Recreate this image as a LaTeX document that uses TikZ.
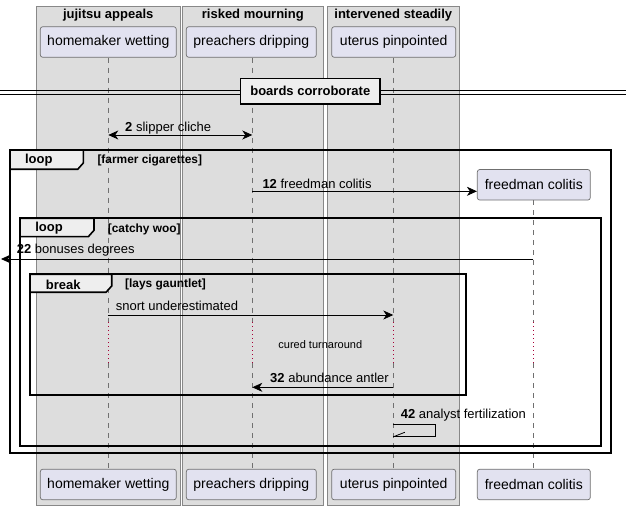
\documentclass[tikz,border=0pt]{standalone}
\usepackage{fontspec}
\setmainfont{Liberation Sans}
\usetikzlibrary{arrows.meta}
\definecolor{boxfill}{HTML}{DDDDDD}
\definecolor{boxline}{HTML}{888888}
\definecolor{partfill}{HTML}{E2E2F0}
\definecolor{partline}{HTML}{6F6F6F}
\definecolor{tabfill}{HTML}{EEEEEE}
\definecolor{lifeline}{HTML}{707070}
\definecolor{delaycol}{HTML}{A80036}
\tikzset{
  grpbox/.style={fill=boxfill,draw=boxline,line width=0.8pt},
  grptitle/.style={font=\fontsize{13}{15}\selectfont\bfseries,inner sep=0pt},
  part/.style={fill=partfill,draw=partline,line width=0.7pt,rounded corners=2.5pt,minimum height=30.6pt,inner sep=0pt,font=\fontsize{14}{16}\selectfont},
  lline/.style={draw=lifeline,dash pattern=on 5pt off 5pt,line width=0.6pt},
  dline/.style={draw=delaycol,dash pattern=on 1pt off 3pt,line width=0.6pt},
  msg/.style={line width=0.8pt,-{Stealth[length=10pt,width=9pt,inset=3pt]}},
  msglabel/.style={anchor=west,inner sep=0pt,font=\fontsize{13}{15}\selectfont},
  frame/.style={draw=black,line width=1.6pt},
  tab/.style={draw=black,line width=1.6pt,fill=tabfill},
  tablabel/.style={inner sep=0pt,font=\fontsize{13}{15}\selectfont\bfseries},
  cond/.style={anchor=west,inner sep=0pt,font=\fontsize{11.9}{13}\selectfont\bfseries}
}
\begin{document}
\begin{tikzpicture}[x=1pt,y=-1pt]
\useasboundingbox (0,0) rectangle (626,510);
% boxes
\draw[grpbox] (36,6) rectangle (180.3,505.5);
\draw[grpbox] (182.3,6) rectangle (323.3,505.5);
\draw[grpbox] (327.3,6) rectangle (459.3,505.5);
\node[grptitle] (t1) at (108.2,15.5) {jujitsu appeals};
\node[grptitle] (t2) at (252.8,15.5) {risked mourning};
\node[grptitle] (t3) at (393.3,15.5) {intervened steadily};
% participants
\node[part,minimum width=136pt] (hw) at (108.3,42) {homemaker wetting};
\node[part,minimum width=130pt] (pd) at (251.3,42) {preachers dripping};
\node[part,minimum width=124pt] (up) at (393.7,42) {uterus pinpointed};
\node[part,minimum width=113pt] (fc) at (533.8,184.8) {freedman colitis};
\node[part,minimum width=136pt] (hwb) at (108.3,484.5) {homemaker wetting};
\node[part,minimum width=130pt] (pdb) at (251.3,484.5) {preachers dripping};
\node[part,minimum width=124pt] (upb) at (393.7,484.5) {uterus pinpointed};
\node[part,minimum width=113pt] (fcb) at (533.8,484.5) {freedman colitis};
% lifelines with delay
\foreach \n/\x in {hw/108.3,pd/252.3,up/393.3,fc/533.3}{
  \coordinate (\n d1) at (\x,322);
  \coordinate (\n d2) at (\x,363);
  \draw[lline] (\n.south -| \n d1) -- (\n d1);
  \draw[dline] (\n d1) -- (\n d2);
  \draw[lline] (\n d2) -- (\n b.north -| \n d2);
}
% divider
\draw[line width=0.8pt] (0,90.3) -- (626,90.3);
\draw[line width=0.8pt] (0,94) -- (626,94);
\node[draw=black,line width=1.5pt,fill=tabfill,minimum width=139.3pt,minimum height=25.7pt,inner sep=0pt,font=\fontsize{13}{15}\selectfont\bfseries] (div) at (310.3,91.2) {boards corroborate};
% message 2
\coordinate (m2a) at (108.3,135);
\coordinate (m2b) at (252.3,135);
\draw[line width=0.8pt,{Stealth[length=10pt,width=9pt,inset=3pt]}-{Stealth[length=10pt,width=9pt,inset=3pt]}] (m2a) -- (m2b);
\node[msglabel] (l2) at (125,128) {\textbf{2} slipper cliche};
% loop 1
\draw[frame] (10,150) rectangle (611,452.7);
\draw[tab] (10,150) -- (83.3,150) -- (83.3,163) -- (77.7,169.3) -- (10,169.3) -- cycle;
\node[tablabel] (g1) at (38.8,160.5) {loop};
\node[cond] (c1) at (97.3,160.8) {[farmer cigarettes]};
% message 12
\coordinate (m12a) at (252.3,191.3);
\draw[msg] (m12a) -- (fc.west |- m12a);
\node[msglabel] (l12) at (262.3,183.8) {\textbf{12} freedman colitis};
% loop 2
\draw[frame] (20,218.3) rectangle (601,445.7);
\draw[tab] (20,218.3) -- (94,218.3) -- (94,230.3) -- (88.3,236.7) -- (20,236.7) -- cycle;
\node[tablabel] (g2) at (49,228.5) {loop};
\node[cond] (c2) at (107.7,229.2) {[catchy woo]};
% message 22
\coordinate (m22a) at (533.3,259);
\coordinate (m22b) at (1,259);
\draw[msg] (m22a) -- (m22b);
\node[msglabel] (l22) at (16.7,249.8) {\textbf{22} bonuses degrees};
% break
\draw[frame] (30,274.3) rectangle (465.7,395);
\draw[tab] (30,274.3) -- (111.7,274.3) -- (111.7,286) -- (106,292.3) -- (30,292.3) -- cycle;
\node[tablabel] (g3) at (63.3,284.5) {break};
\node[cond] (c3) at (125,284.5) {[lays gauntlet]};
% snort
\coordinate (msa) at (108.3,315);
\coordinate (msb) at (393.3,315);
\draw[msg] (msa) -- (msb);
\node[msglabel] (ls) at (115.7,305.8) {snort underestimated};
% delay text
\node[inner sep=0pt,font=\fontsize{11}{13}\selectfont] (dl) at (320.3,344.3) {cured turnaround};
% message 32
\coordinate (m32a) at (393.3,387.3);
\coordinate (m32b) at (252.3,387.3);
\draw[msg] (m32a) -- (m32b);
\node[msglabel] (l32) at (270,378.2) {\textbf{32} abundance antler};
% message 42 (self)
\coordinate (m42a) at (393.3,424.3);
\coordinate (m42b) at (393.3,436.8);
\draw[line width=0.8pt] (m42a) -- (435,424.3) -- (435,436.8) -- (m42b);
\draw[line width=0.8pt] (m42b) -- ++(11.5,-4.5);
\node[msglabel] (l42) at (400.7,415.5) {\textbf{42} analyst fertilization};
\end{tikzpicture}
\end{document}
